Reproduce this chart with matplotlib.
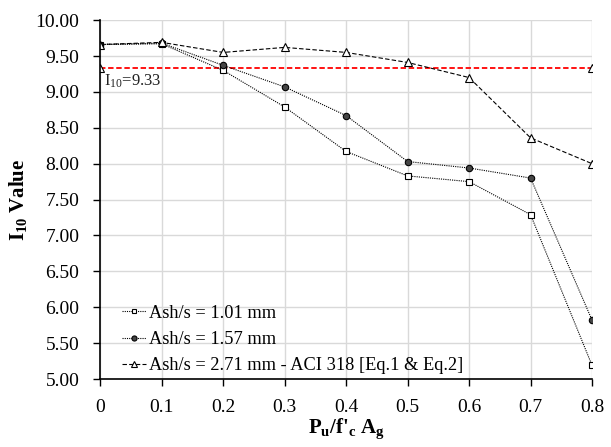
import matplotlib
matplotlib.use("Agg")
import matplotlib.pyplot as plt

plt.rcParams['font.family'] = ['Liberation Serif']
plt.rcParams['mathtext.fontset'] = 'custom'
plt.rcParams['mathtext.rm'] = 'Liberation Serif'
plt.rcParams['mathtext.it'] = 'Liberation Serif:italic'
plt.rcParams['mathtext.bf'] = 'Liberation Serif:bold'

load_ratio = [0, 0.1, 0.2, 0.3, 0.4, 0.5, 0.6, 0.7, 0.8]
ash_101 = [9.66, 9.67, 9.30, 8.79, 8.17, 7.83, 7.75, 7.29, 5.19]
ash_157 = [9.66, 9.68, 9.37, 9.07, 8.67, 8.03, 7.94, 7.80, 5.82]
ash_271 = [9.66, 9.69, 9.55, 9.62, 9.55, 9.41, 9.20, 8.36, 8.00]
i10_limit = 9.33
limit_x = [0, 0.8]

fig = plt.figure(figsize=(6.11, 4.47), dpi=100)
ax = fig.add_axes([0.164, 0.152, 0.805, 0.803])

ax.plot(limit_x, [i10_limit, i10_limit], color='red', linestyle=(0, (3, 1.5)), lw=1.3, zorder=2)
ax.plot(limit_x, [i10_limit, i10_limit], linestyle='none', marker='^', mfc='white', mec='black',
        ms=6, mew=0.8, zorder=3)

ax.plot(load_ratio, ash_101, color='black', linestyle=(0, (1, 1)), lw=0.8, marker='s', ms=4.2,
        mfc='white', mec='black', mew=0.8, label='Ash/s = 1.01 mm', zorder=4)
ax.plot(load_ratio, ash_157, color='black', linestyle=(0, (1, 1)), lw=0.8, marker='o', ms=4.6,
        mfc='#444444', mec='black', mew=0.8, label='Ash/s = 1.57 mm', zorder=4)
ax.plot(load_ratio, ash_271, color='black', linestyle=(0, (4, 2)), lw=0.8, marker='^', ms=6,
        mfc='white', mec='black', mew=0.8, label='Ash/s = 2.71 mm - ACI 318 [Eq.1 & Eq.2]', zorder=4)

ax.text(0.006, 9.15, r'I$_{10}$=9.33', fontsize=12, va='center', ha='left', color='#222222')

ax.set_xlim(0, 0.8)
ax.set_ylim(5.0, 10.0)
ax.set_xticks(load_ratio)
ax.set_xticklabels(['0', '0.1', '0.2', '0.3', '0.4', '0.5', '0.6', '0.7', '0.8'])
ax.set_yticks([5 + 0.5 * i for i in range(11)])
ax.set_yticklabels(['%.2f' % (5 + 0.5 * i) for i in range(11)])
ax.tick_params(labelsize=14, direction='out', length=5, width=1, color='black')
ax.tick_params(axis='y', pad=10)
ax.tick_params(axis='x', pad=9)

ax.grid(True, color='#d9d9d9', lw=1)
ax.set_axisbelow(True)
for s in ['top', 'right']:
    ax.spines[s].set_visible(False)
for s in ['left', 'bottom']:
    ax.spines[s].set_linewidth(1.2)
ax.spines['left'].set_zorder(5)

ax.set_xlabel(r"P$_\mathbf{u}$/f'$_\mathbf{c}$ A$_\mathbf{g}$", fontsize=15, fontweight='bold', labelpad=1)
ax.set_ylabel(r'I$_\mathbf{10}$ Value', fontsize=15, fontweight='bold', labelpad=5)

ax.legend(loc='lower left', frameon=False, fontsize=13.2, handlelength=1.3, handletextpad=0.2,
          borderaxespad=0.1, labelspacing=0.5, markerscale=0.8, bbox_to_anchor=(0.025, -0.012))

fig.savefig('out.png', dpi=100)
